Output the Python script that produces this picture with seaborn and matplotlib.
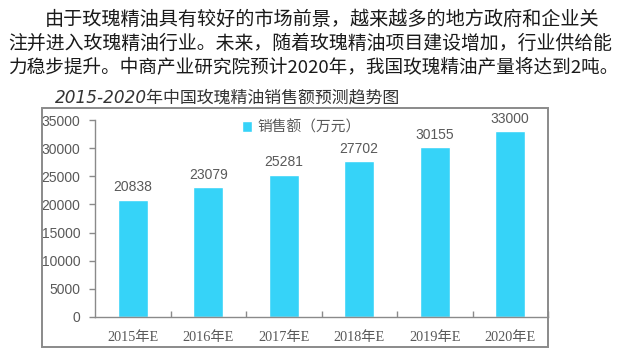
import matplotlib
matplotlib.use("Agg")
import matplotlib.pyplot as plt
from matplotlib.patches import Rectangle
from matplotlib.ticker import FixedLocator
import seaborn as sns
import pandas as pd

# Data
years = ["2015年E", "2016年E", "2017年E", "2018年E", "2019年E", "2020年E"]
sales = [20838, 23079, 25281, 27702, 30155, 33000]
series_name = "销售额（万元）"
y_ticks = [0, 5000, 10000, 15000, 20000, 25000, 30000, 35000]

intro_lines = [
    "由于玫瑰精油具有较好的市场前景，越来越多的地方政府和企业关",
    "注并进入玫瑰精油行业。未来，随着玫瑰精油项目建设增加，行业供给能",
    "力稳步提升。中商产业研究院预计2020年，我国玫瑰精油产量将达到2吨。",
]
chart_title = "2015-2020年中国玫瑰精油销售额预测趋势图"

sns.set_theme(style="white")
plt.rcParams["font.family"] = ["Liberation Sans", "Noto Sans CJK SC"]

BAR = "#36D3F8"
GREY_TXT = "#595959"
SPINE = "#8a8a8a"

W, H = 632, 348
fig = plt.figure(figsize=(W / 100, H / 100), dpi=100)
fig.patch.set_facecolor("white")

def fx(px):
    return px / W

def fy(py):
    return 1 - py / H

# Intro paragraph
cjk = ["Noto Sans CJK SC", "DejaVu Sans"]
starts = [45, 8, 8]
centers = [19, 43, 67]
sizes = [13.8, 13.6, 13.4]
for line, x0, yc, fs in zip(intro_lines, starts, centers, sizes):
    fig.text(fx(x0), fy(yc), line, ha="left", va="center", fontsize=fs,
             family=cjk, color="#1a1a1a")

# Chart title (italic)
fig.text(fx(55), fy(97), chart_title, ha="left", va="center", fontsize=12.2,
         style="italic", family=["DejaVu Sans", "Noto Sans CJK SC"], color="#333333")

# Outer chart frame
fig.add_artist(Rectangle((fx(42), fy(347)), fx(548) - fx(42), fy(108) - fy(347),
                         transform=fig.transFigure, fill=False,
                         edgecolor=SPINE, linewidth=1.4))

ax = fig.add_axes([fx(95), fy(317), fx(548) - fx(95), fy(120) - fy(317)])
ax.set_facecolor("white")

df = pd.DataFrame({"year": years, "sales": sales, "series": series_name})
sns.barplot(data=df, x="year", y="sales", hue="series", palette=[BAR],
            width=0.4, ax=ax, saturation=1, legend=True)

ax.set_ylim(0, 35000)
ax.set_xlim(-0.5, len(years) - 0.5)
ax.set_yticks(y_ticks)
ax.set_yticklabels([str(v) for v in y_ticks])
ax.set_xlabel("")
ax.set_ylabel("")

for s in ["top", "right"]:
    ax.spines[s].set_visible(False)
for s in ["left", "bottom"]:
    ax.spines[s].set_color(SPINE)
    ax.spines[s].set_linewidth(1.0)

ax.tick_params(axis="y", direction="out", length=4, width=1, color=SPINE,
               labelsize=10, labelcolor=GREY_TXT, pad=6.5, left=True)
ax.tick_params(axis="x", which="major", length=0, labelsize=10.3,
               labelcolor=GREY_TXT, pad=10)
ax.xaxis.set_minor_locator(FixedLocator([i + 0.5 for i in range(len(years))]))
ax.tick_params(axis="x", which="minor", direction="in", length=4, width=1,
               color=SPINE, bottom=True)
for lab in ax.get_xticklabels():
    lab.set_family(["Liberation Serif", "Noto Sans CJK SC"])

# Value labels
for i, v in enumerate(sales):
    ax.annotate(str(v), (i, v), xytext=(0, 4), textcoords="offset points",
                ha="center", va="bottom", fontsize=10, color=GREY_TXT)

leg = ax.legend(loc="upper left", bbox_to_anchor=(0.295, 1.065), frameon=False,
                handlelength=0.7, handleheight=0.7, handletextpad=0.35,
                fontsize=10.6, labelcolor=GREY_TXT)

fig.savefig("out.png", dpi=100)
